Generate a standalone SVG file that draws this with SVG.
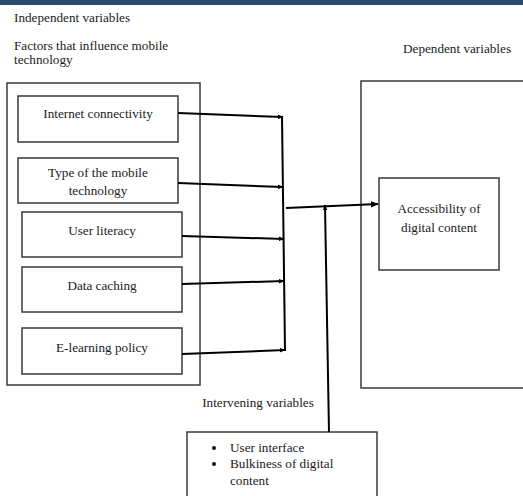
<svg xmlns="http://www.w3.org/2000/svg" width="523" height="496" viewBox="0 0 523 496">
<style>
text{font-family:"Liberation Serif","Times New Roman",serif;font-size:13.2px;fill:#1a1a1a}
.c{text-anchor:middle}
.box{fill:#fff;stroke:#3a3a3a;stroke-width:1.5}
.con{stroke:#000;stroke-width:2;fill:none}
</style>
<defs>
<marker id="ah" viewBox="0 0 10 10" refX="9" refY="5" markerWidth="6" markerHeight="6" orient="auto" markerUnits="userSpaceOnUse">
<path d="M0,1 L10,5 L0,9 z" fill="#000"/>
</marker>
<marker id="ahb" viewBox="0 0 10 10" refX="9" refY="5" markerWidth="8" markerHeight="8" orient="auto" markerUnits="userSpaceOnUse">
<path d="M0,1 L10,5 L0,9 z" fill="#000"/>
</marker>
</defs>
<rect x="0" y="0" width="523" height="5" fill="#2c4a6b"/>
<rect x="0" y="5" width="523" height="491" fill="#fff"/>
<g id="labels">
<text x="14" y="22">Independent variables</text>
<text x="14" y="50">Factors that influence mobile</text>
<text x="14" y="64">technology</text>
<text x="403" y="53">Dependent variables</text>
<text x="258" y="407" class="c">Intervening variables</text>
</g>
<g id="independent">
<rect class="box" x="7" y="83" width="193" height="302"/>
</g>
<g id="n1"><rect class="box" x="18" y="96" width="160" height="46"/><text x="98" y="118" class="c">Internet connectivity</text></g>
<g id="n2"><rect class="box" x="18" y="158" width="160" height="45"/><text x="98" y="177" class="c">Type of the mobile</text><text x="98" y="195" class="c">technology</text></g>
<g id="n3"><rect class="box" x="22" y="212" width="160" height="45"/><text x="102" y="235" class="c">User literacy</text></g>
<g id="n4"><rect class="box" x="22" y="267" width="160" height="45"/><text x="102" y="290" class="c">Data caching</text></g>
<g id="n5"><rect class="box" x="22" y="328" width="160" height="46"/><text x="102" y="352" class="c">E-learning policy</text></g>
<g id="dependent">
<rect class="box" x="361" y="81" width="170" height="307"/>
</g>
<g id="n6"><rect class="box" x="379" y="178" width="120" height="92"/><text x="439" y="213" class="c">Accessibility of</text><text x="439" y="232" class="c">digital content</text></g>
<g id="n7"><rect class="box" x="187" y="432" width="190" height="80"/>
<circle cx="214" cy="448" r="2" fill="#1a1a1a"/><circle cx="214" cy="464" r="2" fill="#1a1a1a"/>
<text x="230" y="452">User interface</text><text x="230" y="468">Bulkiness of digital</text><text x="230" y="485">content</text></g>
<g id="connectors">
<line class="con" x1="178" y1="113" x2="283" y2="117" marker-end="url(#ah)"/>
<line class="con" x1="178" y1="183" x2="283" y2="187" marker-end="url(#ah)"/>
<line class="con" x1="182" y1="236" x2="284" y2="239" marker-end="url(#ah)"/>
<line class="con" x1="182" y1="284" x2="284" y2="281" marker-end="url(#ah)"/>
<line class="con" x1="182" y1="354" x2="285" y2="350" marker-end="url(#ah)"/>
<line class="con" x1="282" y1="116" x2="285" y2="351"/>
<line class="con" x1="286" y1="208" x2="378" y2="204" marker-end="url(#ahb)"/>
<line class="con" x1="329" y1="432" x2="325" y2="205" marker-end="url(#ah)"/>
</g>
</svg>
